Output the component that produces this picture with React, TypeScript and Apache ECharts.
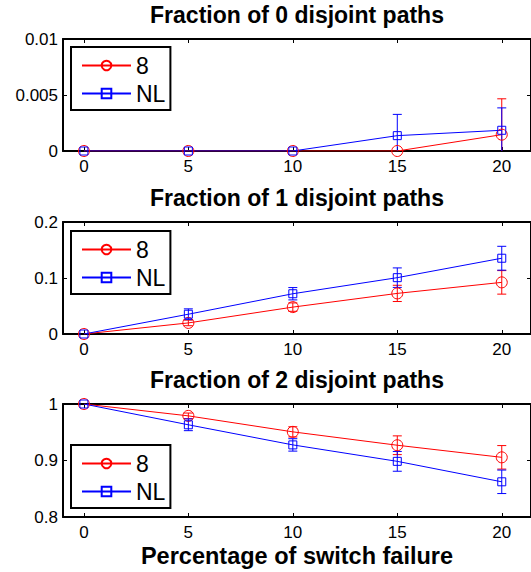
import React, { useEffect, useRef } from "react";
import * as echarts from "echarts";

const xValues = [0, 5, 10, 15, 20];
const xTicks = [0, 5, 10, 15, 20];

const titles = [
  "Fraction of 0 disjoint paths",
  "Fraction of 1 disjoint paths",
  "Fraction of 2 disjoint paths",
];
const xAxisTitle = "Percentage of switch failure";
const seriesNames = ["8", "NL"];

// panel 0
const p0_8 = [0, 0, 0, 0, 0.00146];
const p0_8_err = [0, 0, 0, 0, 0.0032];
const p0_nl = [0, 0, 0, 0.00137, 0.00185];
const p0_nl_err = [0, 0, 0, 0.0019, 0.002];
// panel 1
const p1_8 = [0, 0.0198, 0.048, 0.0725, 0.0922];
const p1_8_err = [0, 0.005, 0.0075, 0.0145, 0.021];
const p1_nl = [0, 0.0353, 0.0719, 0.1006, 0.1353];
const p1_nl_err = [0, 0.0096, 0.011, 0.0174, 0.0213];
// panel 2
const p2_8 = [1, 0.979, 0.9507, 0.927, 0.9056];
const p2_8_err = [0, 0.005, 0.009, 0.0166, 0.0208];
const p2_nl = [1, 0.9632, 0.9276, 0.8985, 0.8623];
const p2_nl_err = [0, 0.0104, 0.011, 0.0175, 0.0208];

const yMins = [0, 0, 0.8];
const yMaxs = [0.01, 0.2, 1];
const yIntervals = [0.005, 0.1, 0.1];

const panels = [
  { a: p0_8, ae: p0_8_err, b: p0_nl, be: p0_nl_err },
  { a: p1_8, ae: p1_8_err, b: p1_nl, be: p1_nl_err },
  { a: p2_8, ae: p2_8_err, b: p2_nl, be: p2_nl_err },
];

const RED = "#ff0000";
const BLUE = "#0000ff";
const FONT = "Liberation Sans";

export default function App() {
  const ref = useRef<HTMLDivElement>(null);
  useEffect(() => {
    const chart = echarts.init(ref.current!, null, { renderer: "svg" });
    const gridTops = [39, 222, 404];
    const gridHeights = [112, 112, 113];
    const legendTops = [47, 231, 445];

    const grids: any[] = [];
    const xAxes: any[] = [];
    const yAxes: any[] = [];
    const series: any[] = [];
    const legends: any[] = [];

    const errRender = (color: string) => (params: any, api: any) => {
      const x = api.value(0);
      const y = api.value(1);
      const e = api.value(2);
      if (!e) return null;
      const top = api.coord([x, y + e]);
      const bot = api.coord([x, y - e]);
      const cap = 4.5;
      const style = { stroke: color, lineWidth: 1 };
      return {
        type: "group",
        children: [
          { type: "line", shape: { x1: top[0], y1: top[1], x2: bot[0], y2: bot[1] }, style },
          { type: "line", shape: { x1: top[0] - cap, y1: top[1], x2: top[0] + cap, y2: top[1] }, style },
          { type: "line", shape: { x1: bot[0] - cap, y1: bot[1], x2: bot[0] + cap, y2: bot[1] }, style },
        ],
      };
    };

    panels.forEach((p, i) => {
      grids.push({ left: 63, width: 470, top: gridTops[i], height: gridHeights[i] });
      const axisLine = { show: true, onZero: false, lineStyle: { color: "#000", width: 2 } };
      const tick = { show: true, inside: true, length: 4, lineStyle: { color: "#000", width: 1 } };
      xAxes.push({
        type: "value",
        gridIndex: i,
        position: "bottom",
        min: -1,
        max: 21.4,
        axisLine,
        axisTick: { ...tick, customValues: xTicks },
        axisLabel: {
          customValues: xTicks,
          fontSize: 17,
          fontFamily: FONT,
          color: "#000",
          margin: 7,
        },
        splitLine: { show: false },
        name: i === 2 ? xAxisTitle : "",
        nameLocation: "middle",
        nameGap: 27,
        nameTextStyle: { fontSize: 23.5, fontWeight: "bold", fontFamily: FONT, color: "#000" },
      });
      xAxes.push({
        type: "value",
        gridIndex: i,
        position: "top",
        min: -1,
        max: 21.4,
        axisLine,
        axisTick: { ...tick, customValues: xTicks },
        axisLabel: { show: false, customValues: xTicks },
        splitLine: { show: false },
        name: titles[i],
        nameLocation: "middle",
        nameGap: 13,
        nameTextStyle: { fontSize: 23, fontWeight: "bold", fontFamily: FONT, color: "#000" },
      });
      yAxes.push({
        type: "value",
        gridIndex: i,
        position: "left",
        min: yMins[i],
        max: yMaxs[i],
        interval: yIntervals[i],
        axisLine,
        axisTick: tick,
        axisLabel: { fontSize: 17, fontFamily: FONT, color: "#000", margin: 5 },
        splitLine: { show: false },
      });
      yAxes.push({
        type: "value",
        gridIndex: i,
        position: "right",
        min: yMins[i],
        max: yMaxs[i],
        interval: yIntervals[i],
        axisLine,
        axisTick: tick,
        axisLabel: { show: false },
        splitLine: { show: false },
      });

      const defs = [
        { name: seriesNames[0], vals: p.a, errs: p.ae, color: RED, symbol: "circle", size: 11 },
        { name: seriesNames[1], vals: p.b, errs: p.be, color: BLUE, symbol: "rect", size: 8 },
      ];
      defs.forEach((d) => {
        series.push({
          type: "custom",
          name: "err-" + d.name,
          xAxisIndex: 2 * i,
          yAxisIndex: 2 * i,
          clip: true,
          renderItem: errRender(d.color),
          data: xValues.map((x, j) => [x, d.vals[j], d.errs[j]]),
          z: 2,
        });
      });
      defs.forEach((d) => {
        series.push({
          type: "line",
          name: d.name,
          xAxisIndex: 2 * i,
          yAxisIndex: 2 * i,
          symbol: d.symbol,
          symbolSize: d.size,
          showAllSymbol: true,
          lineStyle: { color: d.color, width: 1 },
          itemStyle: { color: "rgba(255,255,255,0)", borderColor: d.color, borderWidth: 1 },
          data: xValues.map((x, j) => [x, d.vals[j]]),
          z: 3,
        });
      });

      legends.push({
        data: seriesNames,
        orient: "vertical",
        left: 71,
        top: legendTops[i],
        itemWidth: 49,
        itemHeight: 12,
        itemGap: 5,
        padding: [7, 5, 5, 10],
        borderColor: "#000",
        borderWidth: 2,
        borderRadius: 0,
        backgroundColor: "#fff",
        selectedMode: false,
        textStyle: { fontSize: 23, fontFamily: FONT, color: "#000" },
      });
    });

    chart.setOption({
      animation: false,
      backgroundColor: "#fff",
      grid: grids,
      xAxis: xAxes,
      yAxis: yAxes,
      legend: legends,
      series,
    });
    return () => chart.dispose();
  }, []);
  return (
    <div
      ref={ref}
      style={{ position: "absolute", left: 0, top: 0, width: 531, height: 572, background: "#fff" }}
    />
  );
}
